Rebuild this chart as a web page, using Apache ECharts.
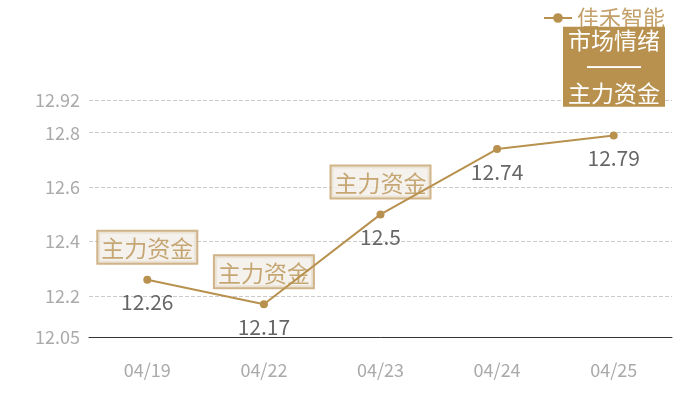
<!DOCTYPE html>
<html><head><meta charset="utf-8">
<script src="https://cdn.jsdelivr.net/npm/echarts@6/dist/echarts.min.js"></script>
<style>html,body{margin:0;padding:0;background:#fff}#c{width:700px;height:400px}</style>
</head><body><div id="c"></div>
<script>
const categories = ['04/19','04/22','04/23','04/24','04/25'];
const prices = [12.26, 12.17, 12.5, 12.74, 12.79];
const tagText = ['主力资金','主力资金','主力资金','',''];
const seriesName = '佳禾智能';
const boxLines = ['市场情绪','——','主力资金'];
const yMin = 12.05, yMax = 12.92;

const gold = '#b8914f';
const font = '"Noto Sans CJK SC", "Noto Sans", sans-serif';
const chart = echarts.init(document.getElementById('c'));
chart.setOption({
  animation: false,
  textStyle: { fontFamily: font },
  grid: { left: 89, right: 28, top: 100, bottom: 63 },
  title: {
    text: boxLines.map((s, i) => (i === 1 ? '{b|' : '{a|') + s + '}').join('\n'),
    right: 35, top: 25,
    backgroundColor: gold,
    padding: [2, 3, 2, 3],
    textStyle: {
      fontFamily: font, fontWeight: 'normal',
      rich: {
        a: { width: 96, align: 'center', color: '#fff', fontSize: 23, lineHeight: 26.5, fontWeight: 'normal', fontFamily: font },
        b: { width: 96, align: 'center', color: '#fff', fontSize: 27, lineHeight: 26.5, fontWeight: 'normal', fontFamily: '"Liberation Sans", sans-serif' }
      }
    }
  },
  legend: {
    data: [seriesName],
    right: 30, top: 2,
    itemWidth: 28, itemHeight: 12, itemGap: 6,
    textStyle: { color: '#c4a06a', fontSize: 22, fontFamily: font }
  },
  xAxis: {
    type: 'category',
    data: categories,
    axisLine: { lineStyle: { color: '#333' } },
    axisTick: { show: false },
    axisLabel: { color: '#aaa', fontSize: 18, margin: 24 }
  },
  yAxis: {
    type: 'value',
    min: yMin, max: yMax,
    axisLine: { show: false },
    axisTick: { show: false },
    axisLabel: { color: '#aaa', fontSize: 18, margin: 9 },
    splitLine: { lineStyle: { color: '#ccc', type: 'dashed' } }
  },
  series: [
    {
      name: seriesName,
      type: 'line',
      data: prices,
      symbol: 'circle',
      symbolSize: 8,
      itemStyle: { color: gold },
      lineStyle: { color: gold, width: 2 },
      label: { show: true, position: 'bottom', distance: 8, color: '#666', fontSize: 21 }
    },
    {
      type: 'scatter',
      data: prices.map((v, i) => tagText[i] ? { value: v, tag: tagText[i] } : { value: v, tag: '', label: { show: false } }),
      symbolSize: 0,
      silent: true,
      itemStyle: { color: 'transparent' },
      label: {
        show: true, position: 'top', distance: 17,
        formatter: p => p.data.tag,
        color: '#b99355', fontSize: 23,
        backgroundColor: '#f3efe8',
        borderColor: '#c4a06a', borderWidth: 2,
        padding: [5, 3, 3, 3]
      }
    }
  ]
});
</script></body></html>
